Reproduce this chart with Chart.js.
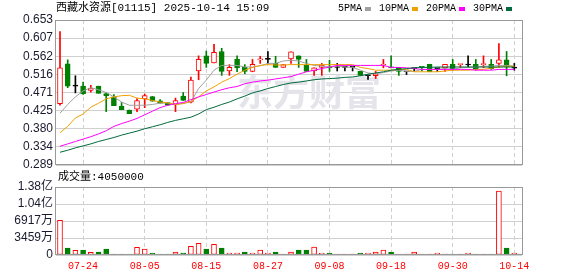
<!DOCTYPE html>
<html>
<head>
<meta charset="utf-8">
<script src="https://cdn.jsdelivr.net/npm/chart.js@4.4.1/dist/chart.umd.min.js"></script>
<style>
  html, body { margin: 0; padding: 0; background: #fff; }
  #wrap { position: relative; width: 578px; height: 276px; }
  #wrap canvas { position: absolute; left: 0; top: 0; }
</style>
</head>
<body>
<div id="wrap">
  <canvas id="kline" width="578" height="276"></canvas>
  <canvas id="vol" width="578" height="276"></canvas>
</div>
<script>
var stockName = "西藏水资源";
var stockCode = "01115";
var stamp = "2025-10-14 15:09";
var lastVolume = "4050000";

// trading days
var dates = ["07-21","07-22","07-23","07-24","07-25","07-28","07-29","07-30","07-31","08-01",
  "08-04","08-05","08-06","08-07","08-08","08-11","08-12","08-13","08-14","08-15",
  "08-18","08-19","08-20","08-21","08-22","08-25","08-26","08-27","08-28","08-29",
  "09-01","09-02","09-03","09-04","09-05","09-08","09-09","09-10","09-11","09-12",
  "09-15","09-16","09-17","09-18","09-19","09-22","09-23","09-24","09-25","09-26",
  "09-29","09-30","10-02","10-03","10-06","10-08","10-09","10-10","10-13","10-14"];
var xTickDays = ["07-24","08-05","08-15","08-27","09-08","09-18","09-30","10-14"];

var open  = [0.443,0.543,0.487,0.487,0.476,0.487,0.468,0.460,0.437,0.427,
  0.429,0.455,0.461,0.450,0.446,0.441,0.462,0.447,0.525,0.563,
  0.545,0.574,0.525,0.554,0.534,0.524,0.553,0.554,0.544,0.534,
  0.555,0.563,0.540,0.525,0.534,0.535,0.534,0.534,0.534,0.524,
  0.513,0.513,0.540,0.535,0.534,0.523,0.531,0.535,0.542,0.531,
  0.533,0.542,0.541,0.540,0.542,0.541,0.542,0.544,0.553,0.532];
var high  = [0.624,0.553,0.513,0.497,0.489,0.487,0.470,0.466,0.446,0.427,
  0.456,0.467,0.461,0.453,0.446,0.457,0.471,0.510,0.563,0.575,
  0.592,0.582,0.541,0.563,0.541,0.554,0.562,0.574,0.562,0.541,
  0.573,0.563,0.554,0.533,0.544,0.552,0.544,0.534,0.534,0.524,
  0.513,0.524,0.554,0.563,0.534,0.523,0.531,0.535,0.542,0.531,
  0.542,0.554,0.542,0.563,0.554,0.563,0.554,0.594,0.574,0.544];
var low   = [0.439,0.483,0.470,0.466,0.472,0.469,0.423,0.438,0.428,0.418,
  0.423,0.433,0.449,0.444,0.439,0.423,0.451,0.445,0.503,0.534,
  0.545,0.514,0.514,0.523,0.518,0.523,0.544,0.544,0.534,0.534,
  0.544,0.534,0.524,0.514,0.514,0.524,0.525,0.525,0.525,0.514,
  0.504,0.506,0.533,0.533,0.514,0.516,0.525,0.525,0.523,0.524,
  0.524,0.527,0.533,0.535,0.527,0.533,0.529,0.535,0.513,0.527];
var close = [0.533,0.487,0.487,0.468,0.482,0.469,0.463,0.438,0.428,0.418,
  0.451,0.463,0.449,0.444,0.439,0.451,0.451,0.502,0.554,0.544,
  0.572,0.524,0.534,0.533,0.524,0.542,0.555,0.554,0.534,0.541,
  0.573,0.554,0.524,0.533,0.540,0.533,0.534,0.534,0.534,0.514,
  0.513,0.518,0.541,0.533,0.524,0.523,0.531,0.534,0.523,0.531,
  0.542,0.531,0.542,0.540,0.531,0.542,0.531,0.553,0.535,0.532];

var ma5  = [0.419,0.441,0.460,0.475,0.483,0.478,0.471,0.460,0.447,0.439,
  0.439,0.439,0.441,0.444,0.445,0.441,0.444,0.447,0.481,0.502,
  0.527,0.539,0.539,0.539,0.535,0.535,0.538,0.544,0.544,0.550,
  0.552,0.550,0.544,0.539,0.537,0.535,0.537,0.535,0.534,0.527,
  0.520,0.518,0.521,0.525,0.527,0.524,0.524,0.529,0.529,0.529,
  0.531,0.529,0.533,0.534,0.535,0.537,0.537,0.539,0.539,0.537];
var ma10 = [0.370,0.386,0.407,0.417,0.434,0.444,0.455,0.460,0.463,0.464,
  0.457,0.455,0.451,0.447,0.445,0.441,0.443,0.449,0.460,0.475,
  0.485,0.497,0.506,0.517,0.527,0.534,0.539,0.541,0.540,0.540,
  0.541,0.541,0.541,0.541,0.541,0.541,0.541,0.541,0.541,0.534,
  0.531,0.527,0.527,0.527,0.529,0.529,0.523,0.523,0.523,0.523,
  0.525,0.527,0.527,0.527,0.529,0.529,0.532,0.535,0.537,0.537];
var ma20 = [0.336,0.342,0.348,0.354,0.360,0.367,0.375,0.386,0.393,0.399,
  0.406,0.415,0.424,0.433,0.439,0.443,0.446,0.453,0.460,0.466,
  0.472,0.478,0.483,0.486,0.493,0.497,0.500,0.502,0.505,0.508,
  0.511,0.517,0.523,0.527,0.531,0.535,0.539,0.539,0.539,0.539,
  0.539,0.539,0.539,0.534,0.534,0.533,0.531,0.529,0.529,0.529,
  0.529,0.529,0.529,0.529,0.527,0.527,0.527,0.529,0.529,0.529];
var ma30 = [0.321,0.326,0.332,0.337,0.342,0.348,0.353,0.358,0.364,0.369,
  0.374,0.380,0.385,0.390,0.396,0.401,0.405,0.409,0.417,0.428,
  0.434,0.441,0.447,0.455,0.462,0.470,0.475,0.481,0.486,0.491,
  0.495,0.497,0.500,0.503,0.505,0.506,0.507,0.509,0.510,0.513,
  0.517,0.520,0.523,0.527,0.529,0.531,0.533,0.534,0.534,0.535,
  0.535,0.535,0.535,0.535,0.535,0.535,0.535,0.535,0.535,0.535];

// volume in 万 (10k shares), R = up bar, G = down bar
var volume = [7060,1420,950,1020,540,610,1220,200,200,200,
  1560,1220,410,200,200,610,410,1760,2370,1220,
  2170,1420,410,410,610,410,1020,410,610,200,
  610,1020,1020,1630,410,410,200,200,200,410,
  410,610,1020,610,200,200,610,200,200,410,
  200,200,200,410,200,200,200,13020,1420,405];
var volDir = ("RGRGRGGGGG" + "RRGGGRGRRG" + "RGRRGRRRGR" +
  "RGGRRGRRRG" + "RRRGRRRRRR" + "RGRRGRGRGR").split("");

var priceTicks = ["0.289","0.334","0.380","0.425","0.471","0.516","0.562","0.607","0.653"];
var volTicks = ["0","3459万","6917万","1.04亿","1.38亿"];
var volMax = 13836; // 万

var legendNames = ["5PMA","10PMA","20PMA","30PMA"];
var maColors = ["#a0a0a0","#f0a000","#ff00ff","#006b3c"];

var RED = "#ff0000", GREEN = "#008000";
var SANS = "'Liberation Sans', Arial, 'Noto Sans CJK SC', sans-serif";
var MONO = "'Liberation Mono', 'Noto Sans CJK SC', monospace";
var GRID = "#d0d0d0";
var X_MIN = -0.52, X_MAX = 60;

var xTicks = xTickDays.map(function (d) { return dates.indexOf(d); });
var idx = dates.map(function (d, i) { return i; });

function xAxis(showLabels) {
  return {
    type: "linear", min: X_MIN, max: X_MAX, offset: false,
    afterBuildTicks: function (s) { s.ticks = xTicks.map(function (v) { return { value: v }; }); },
    afterFit: function (s) { s.height = showLabels ? 21 : 0; },
    grid: { color: GRID, drawTicks: false, offset: false },
    border: { display: false, dash: [4, 3] },
    ticks: {
      display: showLabels, padding: 5, color: RED, autoSkip: false, maxRotation: 0,
      font: { family: MONO, size: 10 },
      callback: function (v) { return dates[v]; }
    }
  };
}

function yAxis(min, max, labels) {
  return {
    min: min, max: max,
    afterBuildTicks: function (s) {
      s.ticks = labels.map(function (t, k) { return { value: min + k * (max - min) / (labels.length - 1) }; });
    },
    afterFit: function (s) { s.width = 56; },
    grid: { color: GRID, drawTicks: false },
    border: { display: false },
    ticks: {
      padding: 3, color: "#1a1a2e", font: { family: SANS, size: 12 }, autoSkip: false,
      callback: function (v, i) { return labels[i]; }
    }
  };
}

// grey box round the plot area, drawn as 1px strips
function frame(chart) {
  var a = chart.chartArea, ctx = chart.ctx;
  var l = Math.round(a.left) - 1, t = Math.round(a.top), r = Math.round(a.right), b = Math.round(a.bottom);
  ctx.save();
  ctx.fillStyle = "#999";
  ctx.fillRect(l, t, r - l + 1, 1);
  ctx.fillRect(l, b - 1, r - l + 1, 1);
  ctx.fillRect(l, t, 1, b - t);
  ctx.fillRect(r, t, 1, b - t);
  ctx.restore();
}

var klineDecor = {
  id: "klineDecor",
  beforeDatasetsDraw: function (chart) {
    var ctx = chart.ctx;
    ctx.save();
    ctx.fillStyle = "#e4e4ea";
    ctx.font = "bold 36px 'Noto Sans CJK SC', sans-serif";
    ctx.textBaseline = "middle";
    ctx.fillText("东方财富", 237, 92);
    ctx.restore();
  },
  afterDatasetsDraw: function (chart) { frame(chart); },
  afterDraw: function (chart) {
    var ctx = chart.ctx;
    ctx.save();
    ctx.textBaseline = "middle";
    ctx.fillStyle = "#000";
    ctx.font = "11px " + MONO;
    ctx.fillText(stockName + "[" + stockCode + "] " + stamp, 56, 8);
    ctx.font = "10px " + MONO;
    var w = 0;
    legendNames.forEach(function (n) { w += ctx.measureText(n).width + 3 + 6 + 8; });
    var x = 512 - w + 8;
    legendNames.forEach(function (n, k) {
      ctx.fillStyle = "#000";
      ctx.fillText(n, x, 8);
      x += ctx.measureText(n).width + 3;
      ctx.fillStyle = maColors[k];
      ctx.fillRect(x, 7, 6, 4);
      x += 6 + 8;
    });
    ctx.restore();
  }
};

var volDecor = {
  id: "volDecor",
  afterDatasetsDraw: function (chart) { frame(chart); },
  afterDraw: function (chart) {
    var ctx = chart.ctx;
    ctx.save();
    ctx.textBaseline = "middle";
    ctx.fillStyle = "#000";
    ctx.font = "11px " + MONO;
    ctx.fillText("成交量:" + lastVolume, 58, 177);
    ctx.restore();
  }
};

function candleColor(i) {
  if (close[i] > open[i]) return RED;
  if (close[i] < open[i]) return GREEN;
  return "#000";
}

function maLine(values, k) {
  return {
    type: "line", label: legendNames[k],
    data: values.map(function (v, i) { return { x: i, y: v }; }),
    borderColor: maColors[k], borderWidth: 1, pointRadius: 0, tension: 0, order: 0
  };
}

var pMin = parseFloat(priceTicks[0]), pMax = parseFloat(priceTicks[priceTicks.length - 1]);

new Chart(document.getElementById("kline").getContext("2d"), {
  type: "bar",
  data: {
    datasets: [
      maLine(ma30, 3), maLine(ma20, 2), maLine(ma10, 1), maLine(ma5, 0),
      {
        label: "body", order: 1, grouped: false,
        data: idx.map(function (i) { return { x: i, y: [Math.min(open[i], close[i]), Math.max(open[i], close[i])] }; }),
        backgroundColor: idx.map(function (i) { return close[i] > open[i] ? "#fff" : candleColor(i); }),
        borderColor: idx.map(candleColor),
        borderWidth: 1, borderSkipped: false, barThickness: 5, minBarLength: 1
      },
      {
        label: "wick", order: 2, grouped: false,
        data: idx.map(function (i) { return { x: i, y: [low[i], high[i]] }; }),
        backgroundColor: idx.map(candleColor),
        barThickness: 1, minBarLength: 1
      }
    ]
  },
  options: {
    responsive: false, animation: false,
    layout: { padding: { left: 0, right: 56, top: 20, bottom: 111 } },
    plugins: { legend: { display: false }, tooltip: { enabled: false } },
    scales: { x: xAxis(false), y: yAxis(pMin, pMax, priceTicks) }
  },
  plugins: [klineDecor]
});

new Chart(document.getElementById("vol").getContext("2d"), {
  type: "bar",
  data: {
    datasets: [{
      label: "volume",
      data: idx.map(function (i) { return { x: i, y: volume[i] }; }),
      backgroundColor: idx.map(function (i) { return volDir[i] === "R" ? "#fff" : GREEN; }),
      borderColor: idx.map(function (i) { return volDir[i] === "R" ? RED : GREEN; }),
      borderWidth: 1, borderSkipped: false, barThickness: 5
    }]
  },
  options: {
    responsive: false, animation: false,
    layout: { padding: { left: 0, right: 56, top: 187, bottom: 0 } },
    plugins: { legend: { display: false }, tooltip: { enabled: false } },
    scales: { x: xAxis(true), y: yAxis(0, volMax, volTicks) }
  },
  plugins: [volDecor]
});
</script>
</body>
</html>
